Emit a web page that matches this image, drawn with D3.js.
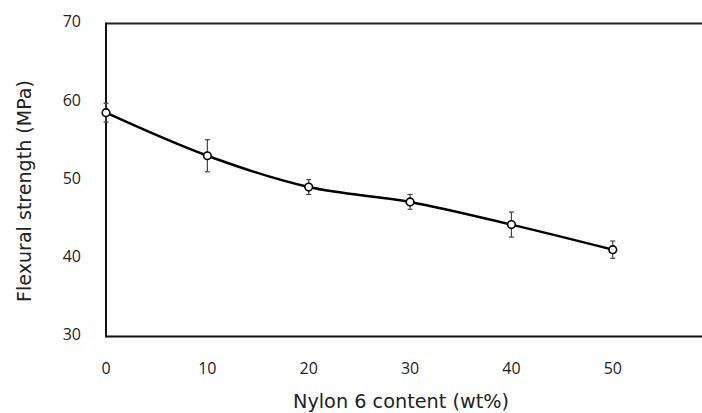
<!DOCTYPE html>
<html><head><meta charset="utf-8">
<script src="https://cdn.jsdelivr.net/npm/d3@7"></script>
<style>body{margin:0;background:#fff}svg{display:block}text{fill:#222}</style>
</head><body><svg id="c" width="702" height="413"></svg>
<script>
const content = [0, 10, 20, 30, 40, 50];
const strength = [58.6, 53.1, 49.1, 47.2, 44.3, 41.1];
const errors = [1.2, 2.05, 0.95, 0.95, 1.6, 1.1];
const xTicks = [0, 10, 20, 30, 40, 50];
const yTicks = [30, 40, 50, 60, 70];

const svg = d3.select("#c");
const x = d3.scaleLinear().domain([0, 59]).range([106, 704]);
const y = d3.scaleLinear().domain([30, 70]).range([336.5, 23.5]);

// frame
svg.append("line").attr("x1", x(0)).attr("x2", 702).attr("y1", y(70)).attr("y2", y(70)).attr("stroke", "#222").attr("stroke-width", 2);
svg.append("line").attr("x1", x(0)).attr("x2", 702).attr("y1", y(30)).attr("y2", y(30)).attr("stroke", "#111").attr("stroke-width", 2);
svg.append("line").attr("x1", x(0)).attr("x2", x(0)).attr("y1", y(70) - 1).attr("y2", y(30) + 1).attr("stroke", "#111").attr("stroke-width", 2);

const tickFont = '"Open Sans", sans-serif';
// tick labels
svg.append("g").selectAll("text").data(yTicks).join("text")
  .attr("x", 81).attr("y", d => y(d) - 2).attr("dy", "0.36em").attr("text-anchor", "end")
  .attr("font-family", tickFont).attr("font-size", 16).text(d => d);
svg.append("g").selectAll("text").data(xTicks).join("text")
  .attr("x", d => x(d)).attr("y", 368).attr("dy", "0.36em").attr("text-anchor", "middle")
  .attr("font-family", tickFont).attr("font-size", 16).text(d => d);

// titles, fitted to the reference widths
function fit(sel, target) {
  const w = sel.node().getComputedTextLength();
  const fs = parseFloat(sel.attr("font-size"));
  sel.attr("font-size", (fs * target / w).toFixed(2));
}
const titleFont = '"DejaVu Sans", sans-serif';
const xt = svg.append("text").attr("x", 401).attr("y", 408).attr("text-anchor", "middle")
  .attr("font-family", titleFont).attr("font-size", 17).text("Nylon 6 content (wt%)");
fit(xt, 216);
const yt = svg.append("text").attr("transform", "translate(31,191) rotate(-90)").attr("text-anchor", "middle")
  .attr("font-family", titleFont).attr("font-size", 17).text("Flexural strength (MPa)");
fit(yt, 222);

const data = content.map((c, i) => ({c, v: strength[i], e: errors[i]}));

// error bars
const eb = svg.append("g").attr("stroke", "#444").attr("stroke-width", 1.2);
data.forEach(d => {
  eb.append("line").attr("x1", x(d.c)).attr("x2", x(d.c)).attr("y1", y(d.v + d.e)).attr("y2", y(d.v - d.e));
  [d.v + d.e, d.v - d.e].forEach(t => eb.append("line").attr("x1", x(d.c) - 2.5).attr("x2", x(d.c) + 2.5).attr("y1", y(t)).attr("y2", y(t)));
});

// line
svg.append("path").datum(data)
  .attr("d", d3.line().x(d => x(d.c)).y(d => y(d.v)).curve(d3.curveCatmullRom.alpha(0.5)))
  .attr("fill", "none").attr("stroke", "#000").attr("stroke-width", 2.5);

// markers
svg.append("g").selectAll("circle").data(data).join("circle")
  .attr("cx", d => x(d.c)).attr("cy", d => y(d.v)).attr("r", 3.8)
  .attr("fill", "#fff").attr("stroke", "#000").attr("stroke-width", 1.6);
</script></body></html>
